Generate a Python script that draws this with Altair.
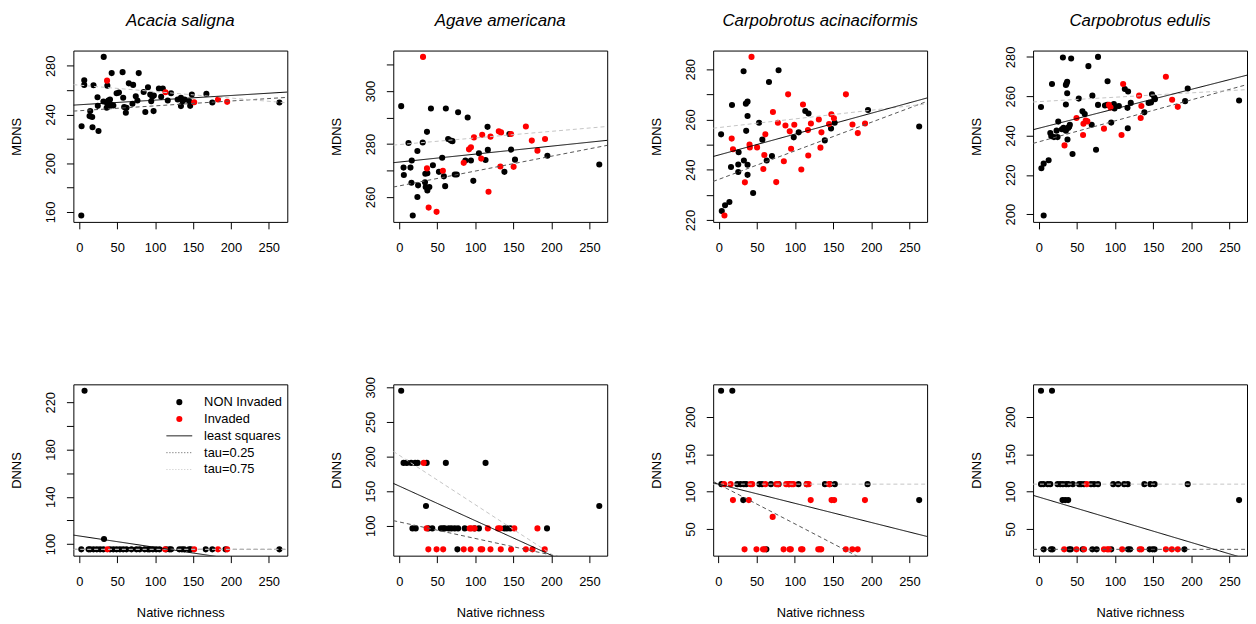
import altair as alt
import pandas as pd

SPECIES = ["Acacia saligna", "Agave americana", "Carpobrotus acinaciformis", "Carpobrotus edulis"]
X_TICKS = [0, 50, 100, 150, 200, 250]
LEGEND_LABELS = ["NON Invaded", "Invaded", "least squares", "tau=0.25", "tau=0.75"]

# ---------------- Acacia saligna : MDNS ----------------
AS_MDNS_NON_X = [2.6, 32.2, 6.5, 6.5, 18.7, 3.0, 17.4, 25.3, 14.4, 13.5, 17.0, 24.0, 24.4, 31.8, 36.1,
                 38.3, 40.5, 37.5, 36.1, 42.7, 44.9, 37.0, 42.7, 57.1, 78.4, 65.3, 71.0, 49.2, 52.3, 57.9,
                 59.2, 61.4, 62.3, 70.1, 74.5, 76.7, 84.9, 87.1, 90.6, 93.6, 94.9, 96.3, 98.4, 98.0, 105.0,
                 110.2, 108.0, 116.7, 121.1, 129.8, 134.1, 134.1, 136.3, 138.9, 145.0, 146.3, 148.5, 167.7,
                 175.5, 264.0]
AS_MDNS_NON_Y = [157.0, 287.3, 268.1, 264.3, 264.0, 230.3, 229.5, 226.5, 242.8, 238.7, 237.9, 254.2, 247.1,
                 250.7, 249.9, 251.5, 252.3, 246.3, 245.5, 247.7, 247.4, 263.7, 274.0, 274.8, 274.0, 265.6,
                 264.3, 257.5, 258.0, 253.7, 246.1, 241.4, 245.5, 248.8, 255.0, 251.5, 258.5, 242.0, 262.4,
                 256.4, 250.9, 254.7, 255.6, 242.8, 261.3, 261.3, 254.5, 251.5, 257.5, 252.3, 253.7, 246.9,
                 250.9, 252.3, 250.9, 247.1, 256.4, 256.9, 249.9, 249.9]
AS_MDNS_INV_X = [36.6, 113.7, 151.6, 183.0, 195.1]
AS_MDNS_INV_Y = [267.8, 258.3, 250.1, 252.3, 250.4]

# ---------------- Agave americana : MDNS ----------------
AA_MDNS_NON_X = [2.6, 41.7, 61.3, 77.4, 90.0, 12.2, 30.9, 36.5, 23.9, 64.3, 67.8, 70.0, 5.7, 14.8, 6.1,
                 16.5, 16.1, 24.8, 23.9, 17.8, 33.9, 34.8, 37.0, 39.6, 37.0, 34.3, 44.3, 52.2, 56.5, 58.7,
                 60.4, 73.0, 75.7, 87.0, 94.3, 97.4, 104.8, 113.5, 116.1, 116.5, 138.3, 144.8, 147.0, 152.2,
                 194.8, 263.0]
AA_MDNS_NON_Y = [294.3, 293.4, 293.4, 292.0, 290.0, 280.4, 280.6, 284.6, 277.4, 281.9, 281.3, 281.1, 271.1,
                 271.1, 268.3, 273.8, 265.4, 264.4, 260.0, 253.0, 265.6, 263.8, 262.5, 263.8, 269.0, 268.8,
                 272.0, 269.5, 274.8, 267.8, 264.1, 268.5, 268.5, 273.8, 273.8, 266.1, 276.5, 274.0, 286.5,
                 277.8, 269.5, 283.8, 277.9, 274.1, 275.6, 272.3]
AA_MDNS_INV_X = [31.3, 36.5, 38.7, 49.1, 57.4, 84.8, 91.7, 94.3, 98.3, 107.8, 109.1, 117.4, 120.0, 130.9,
                 133.9, 133.0, 147.0, 150.4, 166.5, 174.3, 181.7, 191.7]
AA_MDNS_INV_Y = [312.9, 270.8, 256.0, 254.4, 269.9, 272.9, 278.0, 278.8, 282.5, 274.5, 283.5, 262.0, 282.8,
                 284.8, 284.4, 271.5, 283.8, 271.4, 286.6, 281.3, 277.5, 281.9]

# ---------------- Carpobrotus acinaciformis : MDNS ----------------
CA_MDNS_NON_X = [32.5, 78.4, 65.8, 17.3, 35.5, 37.7, 37.7, 113.4, 117.7, 195.7, 152.0, 3.0, 35.9, 52.8, 147.2,
                 262.8, 98.3, 104.8, 57.1, 26.0, 69.7, 62.8, 32.9, 25.5, 25.5, 37.7, 37.7, 16.0, 139.0, 45.0,
                 13.9, 8.2, 3.9]
CA_MDNS_NON_Y = [279.2, 279.6, 274.9, 265.8, 266.3, 267.1, 261.4, 263.4, 262.4, 263.8, 258.7, 254.1, 255.5,
                 258.7, 256.4, 257.2, 252.9, 254.9, 252.0, 247.0, 245.5, 243.7, 243.7, 242.1, 239.1, 242.0,
                 238.0, 241.1, 251.7, 230.8, 227.2, 225.9, 223.6]
CA_MDNS_INV_X = [42.9, 90.9, 166.7, 110.4, 71.0, 147.6, 151.0, 77.5, 87.4, 99.0, 93.0, 120.8, 131.2, 134.6,
                 144.6, 175.3, 191.8, 182.3, 116.9, 16.9, 18.6, 40.3, 40.7, 50.2, 61.0, 59.7, 85.3, 58.4,
                 108.2, 117.3, 94.8, 133.3, 34.2, 75.3, 7.4]
CA_MDNS_INV_Y = [284.9, 270.0, 270.0, 266.0, 263.0, 262.1, 260.5, 258.7, 257.6, 257.9, 255.3, 258.4, 260.0,
                 254.9, 258.2, 258.0, 258.4, 254.6, 255.8, 252.4, 248.2, 250.0, 248.9, 248.9, 254.1, 245.9,
                 243.4, 240.3, 240.1, 245.7, 248.4, 248.8, 235.0, 235.1, 221.8]

# ---------------- Carpobrotus edulis : MDNS ----------------
CE_MDNS_NON_X = [6.5, 3.5, 6.5, 13.0, 3.0, 17.4, 31.7, 42.5, 77.7, 65.1, 90.2, 36.4, 37.3, 35.6, 37.3, 35.6,
                 52.5, 70.3, 77.7, 86.8, 89.8, 98.5, 105.0, 112.8, 117.1, 116.3, 120.6, 138.4, 144.0, 147.1,
                 148.4, 151.4, 152.3, 191.8, 195.2, 262.5, 25.6, 15.2, 16.5, 20.0, 24.7, 23.4, 30.4, 32.5,
                 35.6, 38.6, 39.9, 40.8, 37.7, 44.3, 57.3, 60.3, 69.4, 75.1, 95.0, 116.7, 99.3]
CE_MDNS_NON_Y = [199.3, 223.4, 225.7, 227.4, 254.5, 266.2, 279.7, 279.2, 280.0, 275.3, 267.6, 266.4, 267.4,
                 265.7, 261.5, 255.8, 258.8, 260.3, 255.6, 255.3, 255.6, 256.0, 255.0, 263.7, 262.4, 254.1,
                 256.6, 251.8, 256.6, 256.8, 261.0, 259.3, 258.5, 257.5, 263.9, 257.8, 247.1, 241.3, 239.7,
                 239.2, 239.2, 242.5, 243.2, 243.9, 242.5, 243.9, 244.5, 245.5, 238.0, 230.6, 252.3, 250.9,
                 245.5, 232.8, 246.6, 243.7, 253.8]
CE_MDNS_INV_X = [33.8, 49.5, 58.6, 61.6, 63.8, 58.1, 85.5, 92.0, 94.1, 108.5, 110.6, 131.5, 134.5, 133.6,
                 166.6, 174.8, 182.2]
CE_MDNS_INV_Y = [235.0, 248.9, 246.0, 247.6, 247.2, 240.3, 243.5, 255.6, 254.3, 240.3, 266.2, 260.3, 255.0,
                 248.9, 269.9, 258.2, 254.6]

# ---------------- Acacia saligna : DNNS ----------------
AS_DNNS_NON_X = [2.6, 12.2, 14.4, 18.7, 23.1, 27.4, 31.8, 40.5, 44.9, 49.2, 53.6, 57.9, 62.3, 68.8, 75.4,
                 79.7, 86.2, 90.6, 92.8, 97.1, 101.5, 105.8, 114.5, 118.9, 121.1, 132.0, 135.5, 138.5, 145.0,
                 147.2, 166.8, 175.5, 192.9, 264.0, 6.9, 32.6]
AS_DNNS_NON_Y = [95.5] * 34 + [229.8, 104.2]
AS_DNNS_INV_X = [37.0, 113.2, 151.6, 183.0, 195.1]
AS_DNNS_INV_Y = [95.5, 95.5, 95.5, 95.5, 95.5]

# ---------------- Agave americana : DNNS ----------------
AA_DNNS_NON_X = [2.6, 5.7, 10.0, 15.7, 20.9, 24.3, 36.1, 61.3, 113.5, 35.2, 263.0,
                 17.4, 21.7, 38.3, 43.5, 54.8, 57.8, 60.0, 65.2, 68.7, 73.0, 77.4, 86.1, 99.1, 104.8, 138.3,
                 141.7, 146.1, 194.3, 76.5]
AA_DNNS_NON_Y = [295.2] + [190.9] * 8 + [128.7, 128.7] + [96.2] * 18 + [66.0]
AA_DNNS_INV_X = [32.2, 36.1, 92.6, 94.8, 99.1, 116.5, 130.0, 132.6, 151.3, 181.7,
                 38.3, 49.1, 57.8, 84.8, 93.9, 107.0, 109.1, 120.0, 133.5, 147.0, 166.5, 175.2, 191.3]
AA_DNNS_INV_Y = [190.9] + [96.2] * 9 + [66.0] * 13

# ---------------- Carpobrotus acinaciformis : DNNS ----------------
CA_DNNS_NON_X = [3.5, 18.2, 3.9, 24.7, 29.0, 33.3, 36.4, 53.7, 57.1, 68.8, 78.8, 92.6, 104.8, 115.6, 139.4,
                 145.9, 152.4, 195.2, 32.5, 262.8, 62.8]
CA_DNNS_NON_Y = [234.9, 234.9] + [110.0] * 16 + [88.7, 88.7, 22.9]
CA_DNNS_INV_X = [7.4, 16.0, 42.0, 44.2, 61.5, 75.8, 77.9, 88.7, 91.8, 96.1, 98.3, 115.6, 118.2, 145.0,
                 19.0, 39.8, 120.8, 148.1, 151.5, 191.8, 71.0,
                 34.2, 49.8, 58.4, 60.6, 85.3, 93.1, 94.8, 108.2, 110.0, 130.7, 132.9, 134.6, 166.7, 175.3,
                 182.3]
CA_DNNS_INV_Y = [110.0] * 14 + [88.7] * 6 + [66.2] + [22.9] * 15

# ---------------- Carpobrotus edulis : DNNS ----------------
CE_DNNS_NON_X = [3.0, 17.4, 3.0, 6.1, 11.7, 15.2, 24.7, 28.2, 31.7, 36.0, 39.0, 44.7, 52.9, 55.5, 59.4,
                 68.5, 72.5, 77.7, 97.6, 104.1, 111.9, 116.7, 138.4, 146.2, 151.8, 195.2,
                 31.2, 34.7, 38.6, 262.5,
                 6.5, 16.1, 18.2, 39.9, 42.1, 57.7, 70.3, 75.9, 95.0, 117.1, 119.7, 145.3, 149.2, 151.8,
                 190.9]
CE_DNNS_NON_Y = [234.9, 234.9] + [110.0] * 24 + [88.7] * 4 + [22.9] * 15
CE_DNNS_INV_X = [62.9, 33.4, 49.5, 59.4, 85.5, 89.8, 92.0, 109.3, 132.3, 134.5, 166.6, 174.4, 182.2]
CE_DNNS_INV_Y = [110.0] + [22.9] * 12

# fitted lines (intercept, slope), panels: 4 MDNS then 4 DNNS
LS_INTERCEPT = [248.0, 273.2, 245.9, 243.7, 106.8, 157.4, 110.0, 92.8]
LS_SLOPE = [0.038, 0.030, 0.083, 0.099, -0.096, -0.50, -0.256, -0.304]
Q25_INTERCEPT = [243.1, 264.2, 236.2, 236.8, 95.5, 105.6, 110.0, 22.9]
Q25_SLOPE = [0.040, 0.056, 0.1135, 0.1067, 0.0, -0.239, -0.53, 0.0]
Q75_INTERCEPT = [264.1, 279.8, 256.8, 257.25, 95.5, 201.9, 110.0, 110.0]
Q75_SLOPE = [-0.053, 0.025, 0.0345, 0.0224, 0.0, -0.714, 0.0, 0.0]

# y axis ticks and labelled ticks
Y_TICKS = [[160, 180, 200, 220, 240, 260, 280], [260, 270, 280, 290, 300, 310],
           [220, 230, 240, 250, 260, 270, 280], [200, 220, 240, 260, 280],
           [100, 120, 140, 160, 180, 200, 220], [100, 150, 200, 250, 300],
           [50, 100, 150, 200], [50, 100, 150, 200]]
Y_LABELS = [[160, 200, 240, 280], [260, 280, 300], [220, 240, 260, 280], [200, 220, 240, 260, 280],
            [100, 140, 180, 220], [100, 150, 200, 250, 300], [50, 100, 150, 200], [50, 100, 150, 200]]

PANELS = [
    (AS_MDNS_NON_X, AS_MDNS_NON_Y, AS_MDNS_INV_X, AS_MDNS_INV_Y),
    (AA_MDNS_NON_X, AA_MDNS_NON_Y, AA_MDNS_INV_X, AA_MDNS_INV_Y),
    (CA_MDNS_NON_X, CA_MDNS_NON_Y, CA_MDNS_INV_X, CA_MDNS_INV_Y),
    (CE_MDNS_NON_X, CE_MDNS_NON_Y, CE_MDNS_INV_X, CE_MDNS_INV_Y),
    (AS_DNNS_NON_X, AS_DNNS_NON_Y, AS_DNNS_INV_X, AS_DNNS_INV_Y),
    (AA_DNNS_NON_X, AA_DNNS_NON_Y, AA_DNNS_INV_X, AA_DNNS_INV_Y),
    (CA_DNNS_NON_X, CA_DNNS_NON_Y, CA_DNNS_INV_X, CA_DNNS_INV_Y),
    (CE_DNNS_NON_X, CE_DNNS_NON_Y, CE_DNNS_INV_X, CE_DNNS_INV_Y),
]

FONT = "Liberation Sans"
W, H = 216, 173
DARK = "#555555"
LIGHT = "#c4c4c4"


def padded(vals):
    lo, hi = min(vals), max(vals)
    p = 0.04 * (hi - lo)
    return [lo - p, hi + p]


def make_panel(i):
    nx, ny, ix, iy = PANELS[i]
    bottom = i >= 4
    xs, ys = nx + ix, ny + iy
    xdom, ydom = padded(xs), padded(ys)
    pts = pd.DataFrame({"x": xs, "y": ys,
                        "status": ["NON Invaded"] * len(nx) + ["Invaded"] * len(ix)})
    cond = " || ".join(f"datum.value == {v}" for v in Y_LABELS[i])
    xax = alt.Axis(values=X_TICKS, title="Native richness" if bottom else None,
                   tickSize=7, labelPadding=13, titlePadding=18, labelOverlap=False, grid=False,
                   domain=False)
    yax = alt.Axis(values=Y_TICKS[i], title="DNNS" if bottom else "MDNS",
                   labelExpr=f"({cond}) ? datum.label : ''",
                   labelAngle=-90, labelAlign="center", labelBaseline="alphabetic",
                   tickSize=7, labelPadding=12, titlePadding=18, minExtent=32, maxExtent=32,
                   labelOverlap=False, grid=False, domain=False)
    xenc = alt.X("x:Q", scale=alt.Scale(domain=xdom, nice=False, zero=False), axis=xax)
    yenc = alt.Y("y:Q", scale=alt.Scale(domain=ydom, nice=False, zero=False), axis=yax)

    layers = [
        alt.Chart(pts).mark_circle(size=38, opacity=1).encode(
            x=xenc, y=yenc,
            color=alt.Color("status:N", scale=alt.Scale(domain=["NON Invaded", "Invaded"],
                                                        range=["black", "red"]), legend=None))
    ]
    for a, b, col, dash in [(Q25_INTERCEPT[i], Q25_SLOPE[i], DARK, [4, 3]),
                            (Q75_INTERCEPT[i], Q75_SLOPE[i], LIGHT, [4, 3]),
                            (LS_INTERCEPT[i], LS_SLOPE[i], "black", [1, 0])]:
        df = pd.DataFrame({"x": xdom, "y": [a + b * xdom[0], a + b * xdom[1]]})
        layers.append(alt.Chart(df).mark_line(color=col, strokeDash=dash, strokeWidth=1, clip=True)
                      .encode(x=xenc, y=yenc))

    if i == 4:
        leg = pd.DataFrame({"label": LEGEND_LABELS})
        ypos = [18, 35, 52, 69, 86]
        for k, lab in enumerate(LEGEND_LABELS):
            base = alt.Chart(leg).transform_filter(alt.datum.label == lab)
            layers.append(base.mark_text(align="left", baseline="middle", font=FONT, fontSize=13,
                                         color="black")
                          .encode(x=alt.value(132), y=alt.value(ypos[k]), text="label:N"))
            if k < 2:
                layers.append(base.mark_circle(size=38, opacity=1, color="black" if k == 0 else "red")
                              .encode(x=alt.value(107), y=alt.value(ypos[k])))
            else:
                col = ["black", DARK, LIGHT][k - 2]
                dash = [[1, 0], [1, 2], [1, 2]][k - 2]
                layers.append(base.mark_rule(color=col, strokeDash=dash, strokeWidth=1)
                              .encode(x=alt.value(94), x2=alt.value(120), y=alt.value(ypos[k])))

    if not bottom:
        tdf = pd.DataFrame({"species": [SPECIES[i]]})
        layers.append(alt.Chart(tdf).mark_text(font=FONT, fontSize=17, fontStyle="italic",
                                               align="center", baseline="middle", color="black")
                      .encode(text="species:N", x=alt.value(W / 2), y=alt.value(-30)))

    return alt.layer(*layers).properties(width=W, height=H)


top = alt.hconcat(*[make_panel(i) for i in range(4)], spacing=42)
bot = alt.hconcat(*[make_panel(i) for i in range(4, 8)], spacing=42)
chart = alt.vconcat(top, bot, spacing=121).properties(
    padding={"left": 2, "top": 0, "right": 0, "bottom": 0}, background="white"
).configure_view(stroke="black", strokeWidth=1).configure_axis(
    domain=False, grid=False, tickColor="black", labelColor="black", titleColor="black",
    labelFont=FONT, titleFont=FONT, labelFontSize=13, titleFontSize=13, titleFontWeight="normal"
)

chart.save("out.html", embed_options={"renderer": "svg", "actions": False})
